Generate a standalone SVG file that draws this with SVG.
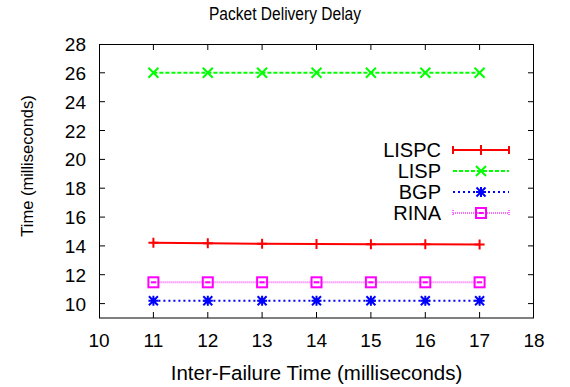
<svg xmlns="http://www.w3.org/2000/svg" width="570" height="387" viewBox="0 0 570 387">
  <style>
    text { font-family: "Liberation Sans", Arial, sans-serif; fill: #000; }
    .tick { font-size: 19px; }
    .title { font-size: 17.5px; }
    .xlabel { font-size: 20.5px; }
    .ylabel { font-size: 16.5px; }
    .key { font-size: 20px; }
    .frame { fill: none; stroke: #000; stroke-width: 1; }
    .tk { stroke: #000; stroke-width: 1; }
    .lispc { fill: none; stroke: #ff0000; stroke-width: 2; }
    .lisp { fill: none; stroke: #00ff00; stroke-width: 2; stroke-dasharray: 4 2; }
    .bgp { fill: none; stroke: #0000ff; stroke-width: 2; stroke-dasharray: 2 3; }
    .rina { fill: none; stroke: #ff00ff; stroke-width: 2; stroke-dasharray: 1 1; opacity: 0.6; }
    .mk-r { fill: none; stroke: #ff0000; stroke-width: 2; }
    .mk-g { fill: none; stroke: #00ff00; stroke-width: 2; }
    .mk-b { fill: none; stroke: #0000ff; stroke-width: 2; }
    .mk-m { fill: none; stroke: #ff00ff; stroke-width: 2; }
  </style>
  <defs>
    <path id="plus" d="M-5,0H5M0,-5V5"/>
    <path id="cross" d="M-5,-5L5,5M-5,5L5,-5"/>
    <path id="star" d="M-5,0H5M0,-5V5M-4.5,-4.5L4.5,4.5M-4.5,4.5L4.5,-4.5"/>
    <g id="box"><rect x="-5" y="-5" width="10" height="10"/><path d="M-2.5,0H2.5"/></g>
  </defs>
  <rect width="570" height="387" fill="#fff"/>

  <text class="title" x="285" y="20" text-anchor="middle" textLength="152" lengthAdjust="spacingAndGlyphs">Packet Delivery Delay</text>

  <g id="axes">
    <rect class="frame" x="99.5" y="44.5" width="434" height="273.5"/>
    <!-- x ticks, bottom and top -->
    <path class="tk" d="M153.4,318v-6M207.8,318v-6M262.1,318v-6M316.5,318v-6M370.9,318v-6M425.3,318v-6M479.6,318v-6
                        M153.4,44v6M207.8,44v6M262.1,44v6M316.5,44v6M370.9,44v6M425.3,44v6M479.6,44v6"/>
    <!-- y ticks, left and right -->
    <path class="tk" d="M99,303.6h6M99,274.7h6M99,245.9h6M99,217.1h6M99,188.2h6M99,159.4h6M99,130.5h6M99,101.7h6M99,72.8h6
                        M534,303.6h-6M534,274.7h-6M534,245.9h-6M534,217.1h-6M534,188.2h-6M534,159.4h-6M534,130.5h-6M534,101.7h-6M534,72.8h-6"/>
    <g class="tick" text-anchor="end">
      <text x="86" y="310.6">10</text>
      <text x="86" y="281.7">12</text>
      <text x="86" y="252.9">14</text>
      <text x="86" y="224.1">16</text>
      <text x="86" y="195.2">18</text>
      <text x="86" y="166.4">20</text>
      <text x="86" y="137.5">22</text>
      <text x="86" y="108.7">24</text>
      <text x="86" y="79.8">26</text>
      <text x="86" y="51">28</text>
    </g>
    <g class="tick" text-anchor="middle">
      <text x="99" y="347">10</text>
      <text x="153.4" y="347">11</text>
      <text x="207.8" y="347">12</text>
      <text x="262.1" y="347">13</text>
      <text x="316.5" y="347">14</text>
      <text x="370.9" y="347">15</text>
      <text x="425.3" y="347">16</text>
      <text x="479.6" y="347">17</text>
      <text x="534" y="347">18</text>
    </g>
    <text class="xlabel" x="316.5" y="380" text-anchor="middle">Inter-Failure Time (milliseconds)</text>
    <text class="ylabel" transform="translate(33,166) rotate(-90)" text-anchor="middle">Time (milliseconds)</text>
  </g>

  <g id="connectors">
    <polyline class="lispc" points="153.4,242.7 207.8,243.3 262.1,243.8 316.5,244 370.9,244.2 425.3,244.3 479.6,244.5"/>
    <polyline class="lisp" points="153.4,72.8 479.6,72.8"/>
    <polyline class="bgp" points="153.4,300.7 479.6,300.7"/>
    <polyline class="rina" points="153.4,282.3 479.6,282.3"/>
  </g>

  <g id="series-lispc" class="mk-r">
    <use href="#plus" x="153.4" y="242.7"/>
    <use href="#plus" x="207.8" y="243.3"/>
    <use href="#plus" x="262.1" y="243.8"/>
    <use href="#plus" x="316.5" y="244"/>
    <use href="#plus" x="370.9" y="244.2"/>
    <use href="#plus" x="425.3" y="244.3"/>
    <use href="#plus" x="479.6" y="244.5"/>
  </g>
  <g id="series-lisp" class="mk-g">
    <use href="#cross" x="153.4" y="72.8"/>
    <use href="#cross" x="207.8" y="72.8"/>
    <use href="#cross" x="262.1" y="72.8"/>
    <use href="#cross" x="316.5" y="72.8"/>
    <use href="#cross" x="370.9" y="72.8"/>
    <use href="#cross" x="425.3" y="72.8"/>
    <use href="#cross" x="479.6" y="72.8"/>
  </g>
  <g id="series-bgp" class="mk-b">
    <use href="#star" x="153.4" y="300.7"/>
    <use href="#star" x="207.8" y="300.7"/>
    <use href="#star" x="262.1" y="300.7"/>
    <use href="#star" x="316.5" y="300.7"/>
    <use href="#star" x="370.9" y="300.7"/>
    <use href="#star" x="425.3" y="300.7"/>
    <use href="#star" x="479.6" y="300.7"/>
  </g>
  <g id="series-rina" class="mk-m">
    <use href="#box" x="153.4" y="282.3"/>
    <use href="#box" x="207.8" y="282.3"/>
    <use href="#box" x="262.1" y="282.3"/>
    <use href="#box" x="316.5" y="282.3"/>
    <use href="#box" x="370.9" y="282.3"/>
    <use href="#box" x="425.3" y="282.3"/>
    <use href="#box" x="479.6" y="282.3"/>
  </g>

  <g id="legend">
    <g class="key" text-anchor="end">
      <text x="441" y="157">LISPC</text>
      <text x="441" y="178">LISP</text>
      <text x="441" y="199">BGP</text>
      <text x="441" y="220">RINA</text>
    </g>
    <path class="lispc" d="M453,150H509M453,146V154M509,146V154"/>
    <use class="mk-r" href="#plus" x="481" y="150"/>
    <path class="lisp" d="M453,171H509"/>
    <use class="mk-g" href="#cross" x="481" y="171"/>
    <path class="bgp" d="M453,192H509"/>
    <use class="mk-b" href="#star" x="481" y="192"/>
    <path class="rina" d="M453,213H509M453,210V216M509,210V216"/>
    <use class="mk-m" href="#box" x="481" y="213"/>
  </g>
</svg>
